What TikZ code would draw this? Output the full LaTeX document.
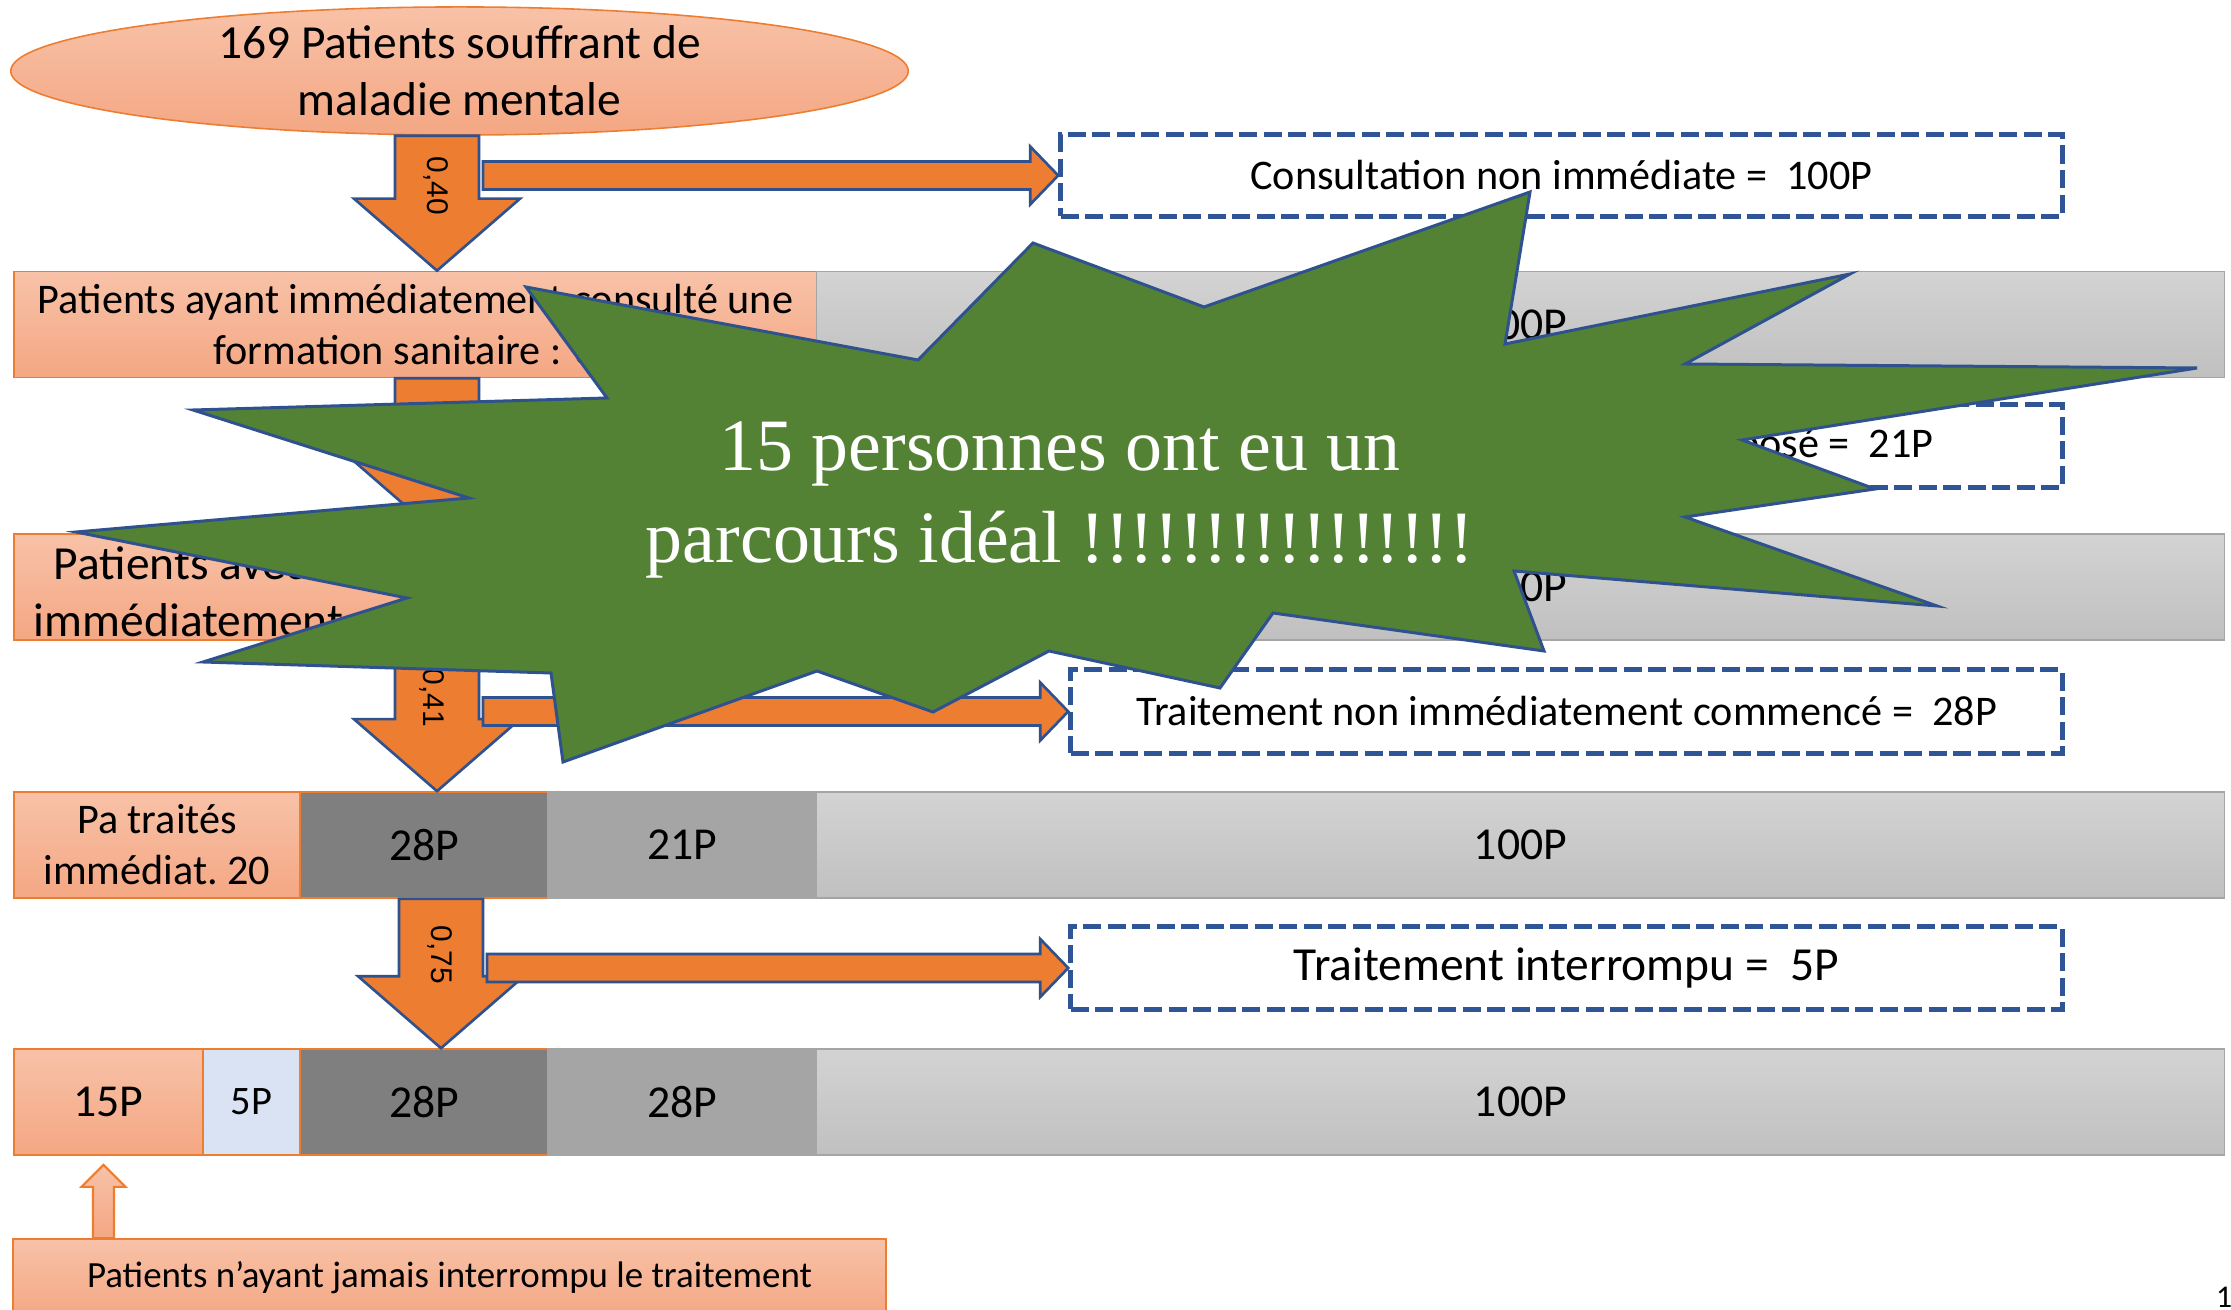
\documentclass[tikz,border=0pt]{standalone}
\usepackage{fontspec}
\setmainfont{Carlito}
\newfontfamily\starfont{Liberation Serif}
\newfontfamily\ratiofont{Liberation Sans}
\usetikzlibrary{calc,shapes.geometric}

\definecolor{orangeacc}{RGB}{237,125,49}
\definecolor{bluedark}{RGB}{47,82,143}
\definecolor{bluedash}{RGB}{47,85,151}
\definecolor{greenstar}{RGB}{84,130,53}
\definecolor{peachtop}{RGB}{248,194,168}
\definecolor{peachbot}{RGB}{244,167,131}
\definecolor{greytop}{RGB}{211,211,211}
\definecolor{greybot}{RGB}{192,192,192}
\definecolor{greymid}{RGB}{165,165,165}
\definecolor{greydark}{RGB}{127,127,127}
\definecolor{paleblue}{RGB}{218,227,243}

% block arrows: shaft top / tip, and shaft start / tip
\newcommand{\varrow}[2]{%
  \draw[blockarrow] ($(#1)+(-42,0)$) -- ($(#2)+(-42,-72)$) -- ($(#2)+(-83,-72)$) -- (#2)
    -- ($(#2)+(83,-72)$) -- ($(#2)+(42,-72)$) -- ($(#1)+(42,0)$) -- cycle;}
\newcommand{\harrow}[2]{%
  \draw[blockarrow] ($(#1|-#2)+(0,-14)$) -- ($(#2)+(-28,-14)$) -- ($(#2)+(-28,-29)$) -- (#2)
    -- ($(#2)+(-28,29)$) -- ($(#2)+(-28,14)$) -- ($(#1|-#2)+(0,14)$) -- cycle;}

\begin{document}
\begin{tikzpicture}[x=0.01cm,y=-0.01cm]
    \tikzstyle{peach}=[draw=orangeacc,line width=0.45pt,top color=peachtop,bottom color=peachbot,inner sep=0pt,align=center]
    \tikzstyle{lightbar}=[draw=greymid,line width=0.45pt,top color=greytop,bottom color=greybot,inner sep=0pt]
    \tikzstyle{midbar}=[draw=greymid,line width=0.45pt,fill=greymid,inner sep=0pt]
    \tikzstyle{darkbar}=[draw=orangeacc,line width=0.45pt,fill=greydark,inner sep=0pt]
    \tikzstyle{blubar}=[draw=orangeacc,line width=0.45pt,fill=paleblue,inner sep=0pt]
    \tikzstyle{dashbox}=[draw=bluedash,line width=0.05cm,dash pattern=on 0.18cm off 0.065cm,inner sep=0pt]
    \tikzstyle{blockarrow}=[draw=bluedark,fill=orangeacc,line width=0.75pt]
    \tikzstyle{upblock}=[draw=orangeacc,line width=0.6pt,top color=peachtop,bottom color=peachbot]
    \tikzstyle{starshape}=[draw=bluedark,fill=greenstar,line width=0.85pt,line join=miter]
    \tikzstyle{startext}=[text=white,align=center,font=\starfont\fontsize{21}{26}\selectfont]
    \tikzstyle{ratiolabel}=[rotate=-90,inner sep=0pt,font=\ratiofont\fontsize{8.5}{10}\selectfont]
    \tikzstyle{txtbig}=[font=\fontsize{13.5}{16.2}\selectfont]
    \tikzstyle{txtmid}=[font=\fontsize{12}{14.5}\selectfont]
    \tikzstyle{txtnum}=[font=\fontsize{13}{15.6}\selectfont]
    \tikzstyle{row}=[minimum height=1.06cm]

\fill[white] (0,0) rectangle (2231,1310);
\useasboundingbox (0,0) rectangle (2231,1310);

\node[peach,ellipse,txtbig,minimum width=8.97cm,minimum height=1.28cm] (ell) at (459.5,71) {169 Patients souffrant de\\maladie mentale};

% row 1
\node[peach,txtmid,row,minimum width=8.03cm] (r1a) at (415.5,324.5) {Patients ayant immédiatement consulté une\\formation sanitaire : 69};
% row 2
\node[peach,row,minimum width=5.34cm] (r2a) at (281,587) {};
\node[txtbig,align=center,inner sep=0pt] (r2t) at (283,595) {Patients avec diagnostic\\immédiatement posé : 48};
\node[midbar,txtnum,row,minimum width=2.69cm] (r2b) at (682.5,587) {21P};
% row 3
\node[peach,txtmid,row,minimum width=2.86cm] (r3a) at (157,845) {Pa traités\\immédiat.\ 20};
\node[darkbar,txtnum,row,minimum width=2.48cm] (r3b) at (424,845) {28P};
\node[midbar,txtnum,row,minimum width=2.69cm] (r3c) at (682.5,845) {21P};
% row 4
\node[peach,txtnum,row,minimum width=1.89cm] (r4a) at (108.5,1102) {15P};
\node[blubar,font=\fontsize{11.5}{14}\selectfont,row,minimum width=0.97cm] (r4b) at (251.5,1102) {5P};
\node[darkbar,txtnum,row,minimum width=2.48cm] (r4c) at (424,1102) {28P};
\node[midbar,txtnum,row,minimum width=2.69cm] (r4d) at (682.5,1102) {28P};
\foreach \y/\n in {324.5/r1z,587/r2z,845/r3z,1102/r4z}{
  \node[lightbar,txtnum,row,minimum width=14.07cm] (\n) at (1520.5,\y) {100P};
};

% side boxes
\node[dashbox,txtmid,minimum width=10.01cm,minimum height=0.81cm] (c1) at (1561.5,175.5) {Consultation non immédiate =\ \ 100P};
\node[dashbox,txtmid,minimum width=10.01cm,minimum height=0.82cm] (c2) at (1561.5,446) {Diagnostic non immédiatement posé =\ \ 21P};
\node[dashbox,txtmid,minimum width=9.91cm,minimum height=0.83cm] (c3) at (1566.5,711.5) {Traitement non immédiatement commencé =\ \ 28P};
\node[dashbox,txtbig,minimum width=9.91cm,minimum height=0.82cm] (c4) at (1566.5,968) {Traitement interrompu =\ \ 5P};

% arrows
\coordinate (ax) at (437,0);
\coordinate (axr) at (483,0);
\coordinate (bx) at (441,0);
\coordinate (bxr) at (487,0);
\varrow{ell.south -| ax}{r1a.north -| ax}
\harrow{axr}{c1.west}
\varrow{r1a.south -| ax}{r2a.north -| ax}
\harrow{axr}{c2.west}
\varrow{r2a.south -| ax}{r3b.north -| ax}
\harrow{axr}{c3.west}
\varrow{r3b.south -| bx}{r4c.north -| bx}
\harrow{bxr}{c4.west}
\node[ratiolabel] (p1) at (436,186) {0,40};
\node[ratiolabel] (p3) at (432,698) {0,41};
\node[ratiolabel] (p4) at (440,955) {0,75};

% never interrupted
\node[peach,font=\fontsize{10.5}{12.6}\selectfont,minimum width=8.72cm,minimum height=0.78cm] (never) at (449.5,1278) {Patients n’ayant jamais interrompu le traitement};
\coordinate (upx) at (103.5,0);
\coordinate (uptip) at ($(r4a.south -| upx)+(0,9)$);
\draw[upblock] ($(never.north -| upx)+(-10.5,0)$) -- ($(uptip)+(-10.5,22)$) -- ($(uptip)+(-22,22)$) -- (uptip)
  -- ($(uptip)+(22,22)$) -- ($(uptip)+(10.5,22)$) -- ($(never.north -| upx)+(10.5,0)$) -- cycle;

% the star
\draw[starshape] (1530,192) -- (1505,344) -- (1850,274) -- (1685,364) -- (2197,368) -- (1742,440)
  -- (1875,489) -- (1685,517) -- (1937,606) -- (1514,571) -- (1544,651) -- (1273,613)
  -- (1220,688) -- (1049,651) -- (933,712) -- (817,671) -- (563,762) -- (551,673)
  -- (203,662) -- (407,598) -- (76,532) -- (469,498) -- (193,410) -- (607,398)
  -- (526,287) -- (918,360) -- (1033,243) -- (1204,307) -- cycle;
\node[startext] (msg) at (1060,500) {15 personnes ont eu un\\parcours idéal !!!!!!!!!!!!!!!!};

\node[font=\fontsize{9}{10}\selectfont] (pg) at (2224,1297) {1};
\end{tikzpicture}
\end{document}
